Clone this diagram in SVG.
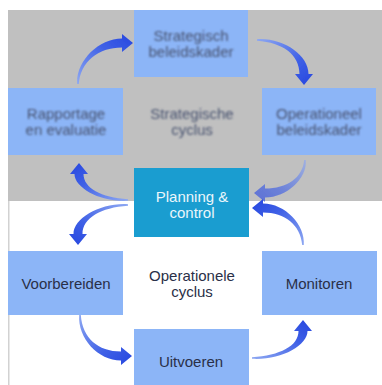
<svg xmlns="http://www.w3.org/2000/svg" width="382" height="385" viewBox="0 0 382 385">
  <defs>
    <style>
      .box { fill: #8cb5f7; }
      .pc { fill: #1a9dd0; }
      .t { font-family: "Liberation Sans", Arial, sans-serif; font-size: 15px; text-anchor: middle; fill: #2a3048; }
      .ts { fill: #46516e; }
      .tw { fill: #eaf6fb; }
      .blur { filter: url(#soft); }
    </style>
    <filter id="soft" x="-20%" y="-20%" width="140%" height="140%">
      <feGaussianBlur stdDeviation="1.1"/>
    </filter>
    <filter id="soft2" x="-20%" y="-20%" width="140%" height="140%">
      <feGaussianBlur stdDeviation="0.6"/>
    </filter>
    <linearGradient id="gNE" x1="0" y1="1" x2="1" y2="0">
      <stop offset="0" stop-color="#8ea8f2"/>
      <stop offset="0.6" stop-color="#3f60e6"/>
      <stop offset="1" stop-color="#2646df"/>
    </linearGradient>
    <linearGradient id="gSE" x1="0" y1="0" x2="1" y2="1">
      <stop offset="0" stop-color="#8ea8f2"/>
      <stop offset="0.6" stop-color="#3f60e6"/>
      <stop offset="1" stop-color="#2646df"/>
    </linearGradient>
    <linearGradient id="gSW" x1="1" y1="0" x2="0" y2="1">
      <stop offset="0" stop-color="#8ea8f2"/>
      <stop offset="0.6" stop-color="#3f60e6"/>
      <stop offset="1" stop-color="#2646df"/>
    </linearGradient>
    <linearGradient id="gNW" x1="1" y1="1" x2="0" y2="0">
      <stop offset="0" stop-color="#8ea8f2"/>
      <stop offset="0.6" stop-color="#3f60e6"/>
      <stop offset="1" stop-color="#2646df"/>
    </linearGradient>
  </defs>

  <!-- backgrounds -->
  <rect x="0" y="0" width="382" height="385" fill="#ffffff"/>
  <rect x="8" y="10" width="374" height="191" fill="#c0c0c0"/>
  <rect x="8" y="201" width="1.5" height="184" fill="#d2d2d2"/>

  <!-- strategic cycle centre label -->
  <g id="strategische-cyclus" class="blur">
    <text class="t ts" x="192" y="119">Strategische</text>
    <text class="t ts" x="192" y="135">cyclus</text>
  </g>

  <g id="strategisch-beleidskader">
    <rect class="box" x="134" y="10" width="114" height="67"/>
    <g class="blur">
      <text class="t ts" x="191" y="41">Strategisch</text>
      <text class="t ts" x="191" y="57">beleidskader</text>
    </g>
  </g>

  <g id="rapportage">
    <rect class="box" x="8" y="88" width="115" height="67"/>
    <g class="blur">
      <text class="t ts" x="66" y="119">Rapportage</text>
      <text class="t ts" x="66" y="135">en evaluatie</text>
    </g>
  </g>

  <g id="operationeel-beleidskader">
    <rect class="box" x="262" y="88" width="114" height="67"/>
    <g class="blur">
      <text class="t ts" x="319" y="119">Operationeel</text>
      <text class="t ts" x="319" y="135">beleidskader</text>
    </g>
  </g>

  <g id="planning-control">
    <rect class="pc" x="134" y="168" width="115" height="69"/>
    <text class="t tw" x="192" y="202">Planning &amp;</text>
    <text class="t tw" x="192" y="218">control</text>
  </g>

  <g id="operationele-cyclus">
    <text class="t" x="192" y="281">Operationele</text>
    <text class="t" x="192" y="297">cyclus</text>
  </g>

  <g id="voorbereiden">
    <rect class="box" x="8" y="251" width="115" height="64"/>
    <text class="t" x="66" y="289">Voorbereiden</text>
  </g>

  <g id="monitoren">
    <rect class="box" x="262" y="251" width="115" height="64"/>
    <text class="t" x="319" y="289">Monitoren</text>
  </g>

  <g id="uitvoeren">
    <rect class="box" x="134" y="329" width="115" height="56"/>
    <text class="t" x="191" y="367">Uitvoeren</text>
  </g>

  <!-- connectors -->
  <g id="connectors">
    <g filter="url(#soft2)">
      <path fill="url(#gNE)" d="M77.2,84 C75.5,62 98,38.5 122,38.5 L122,34 L133,43 L122,52 L122,47.5 C98,47.5 80.5,62 78.8,84 Z"/>
      <path fill="url(#gSE)" d="M257,39.2 C283,37.5 308.5,55 308.5,74 L313,74 L304,85 L295,74 L299.5,74 C299.5,55 283,42.5 257,40.8 Z"/>
      <path fill="url(#gSW)" opacity="0.65" d="M305.8,160 C307.5,178 287,197.5 265,197.5 L265,202 L254,193 L265,184 L265,188.5 C287,188.5 302.5,178 304.2,160 Z"/>
      <path fill="url(#gNW)" d="M128,200.8 C101,202.5 74.5,188 74.5,174 L70,174 L79,163 L88,174 L83.5,174 C83.5,188 101,197.5 128,199.2 Z"/>
    </g>
    <path fill="url(#gSW)" d="M128,205.8 C101,207.5 82.5,218 82.5,234 L87,234 L78,245 L69,234 L73.5,234 C73.5,218 101,202.5 128,204.2 Z"/>
    <path fill="url(#gSE)" d="M80.8,315 C82.5,338 98,351.5 121,351.5 L121,347 L132,356 L121,365 L121,360.5 C98,360.5 77.5,338 79.2,315 Z"/>
    <path fill="url(#gNE)" d="M252,357.2 C280,355.5 298.5,346 298.5,331 L294,331 L303,320 L312,331 L307.5,331 C307.5,346 280,360.5 252,358.8 Z"/>
    <path fill="url(#gNW)" d="M302.2,245 C300.5,225 285,212.5 263,212.5 L263,217 L252,208 L263,199 L263,203.5 C285,203.5 305.5,225 303.8,245 Z"/>
  </g>
</svg>
